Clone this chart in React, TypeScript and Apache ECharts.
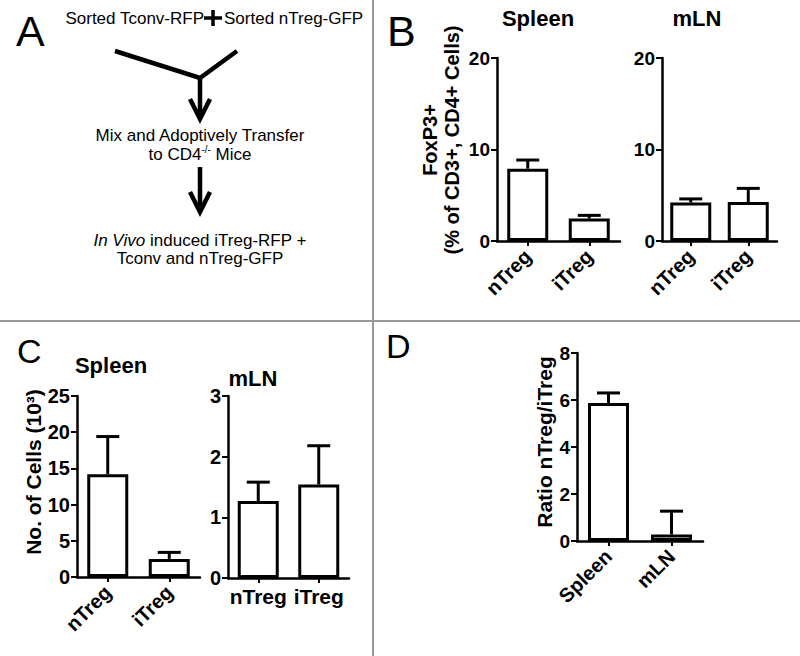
import React, { useEffect, useRef } from "react";
import * as echarts from "echarts";

// ---- data ----
const bSpleenCats = ["nTreg", "iTreg"];
const bSpleenMean = [7.9, 2.45];
const bSpleenErr = [0.95, 0.35];

const bMlnCats = ["nTreg", "iTreg"];
const bMlnMean = [4.2, 4.25];
const bMlnErr = [0.4, 1.5];

const cSpleenCats = ["nTreg", "iTreg"];
const cSpleenMean = [14.2, 2.5];
const cSpleenErr = [5.2, 0.9];

const cMlnCats = ["nTreg", "iTreg"];
const cMlnMean = [1.27, 1.54];
const cMlnErr = [0.31, 0.64];

const dCats = ["Spleen", "mLN"];
const dMean = [5.87, 0.28];
const dErr = [0.43, 0.99];

const FONT = 'Arial, "Liberation Sans", sans-serif';

export default function App() {
  const ref = useRef<HTMLDivElement>(null);
  useEffect(() => {
    document.body.style.margin = "0";
    const chart = echarts.init(ref.current!, null, { renderer: "svg" });

    const grids = [
      { left: 497, top: 58, width: 123, height: 183 },
      { left: 662, top: 58, width: 115, height: 183 },
      { left: 77, top: 396, width: 123, height: 181 },
      { left: 228, top: 396, width: 121, height: 182 },
      { left: 577, top: 353, width: 126, height: 188 },
    ];
    const cats = [bSpleenCats, bMlnCats, cSpleenCats, cMlnCats, dCats];
    const means = [bSpleenMean, bMlnMean, cSpleenMean, cMlnMean, dMean];
    const errs = [bSpleenErr, bMlnErr, cSpleenErr, cMlnErr, dErr];
    const yMax = [20, 20, 25, 3, 8];
    const yInt = [10, 10, 5, 1, 2];
    const tickFont = [19, 19, 20, 20, 19];
    const xRot = [45, 45, 45, 0, 45];
    const xFont = [20, 20, 20, 21, 20];

    const xAxis = grids.map((_, i) => ({
      type: "category",
      gridIndex: i,
      data: cats[i],
      axisLine: { lineStyle: { color: "#000", width: 2.5 } },
      axisTick: { show: true, alignWithLabel: true, length: 5, lineStyle: { color: "#000", width: 2 } },
      axisLabel: {
        rotate: xRot[i],
        color: "#000",
        fontWeight: "bold",
        fontSize: xFont[i],
        fontFamily: FONT,
        margin: xRot[i] ? 12 : 8,
        interval: 0,
      },
    }));
    const yAxis = grids.map((_, i) => ({
      type: "value",
      gridIndex: i,
      min: 0,
      max: yMax[i],
      interval: yInt[i],
      splitLine: { show: false },
      axisLine: { show: true, lineStyle: { color: "#000", width: 2.5 } },
      axisTick: { show: true, length: 6, lineStyle: { color: "#000", width: 2 } },
      axisLabel: { color: "#000", fontWeight: "bold", fontSize: tickFont[i], fontFamily: FONT, margin: 7 },
    }));

    const series: any[] = [];
    grids.forEach((_, i) => {
      series.push({
        type: "bar",
        xAxisIndex: i,
        yAxisIndex: i,
        data: means[i],
        barWidth: 41,
        itemStyle: { color: "#fff", borderColor: "#000", borderWidth: 3 },
      });
      series.push({
        type: "custom",
        xAxisIndex: i,
        yAxisIndex: i,
        data: means[i].map((m, k) => [k, m, m + errs[i][k]]),
        encode: { x: 0, y: [1, 2] },
        z: 5,
        renderItem: (params: any, api: any) => {
          const idx = api.value(0);
          const p0 = api.coord([idx, api.value(1)]);
          const p1 = api.coord([idx, api.value(2)]);
          return {
            type: "group",
            children: [
              { type: "line", shape: { x1: p0[0], y1: p0[1], x2: p1[0], y2: p1[1] }, style: { stroke: "#000", lineWidth: 3 } },
              { type: "line", shape: { x1: p1[0] - 11.5, y1: p1[1], x2: p1[0] + 11.5, y2: p1[1] }, style: { stroke: "#000", lineWidth: 3 } },
            ],
          };
        },
      });
    });

    const txt = (text: string, x: number, y: number, size: number, opts: any = {}) => ({
      type: "text",
      x,
      y,
      rotation: opts.rotation || 0,
      style: {
        text,
        fontSize: size,
        fontWeight: opts.bold ? "bold" : "normal",
        fontFamily: FONT,
        fill: "#000",
        align: opts.align || "center",
        verticalAlign: opts.va || "middle",
        rich: opts.rich,
      },
    });
    const ln = (x1: number, y1: number, x2: number, y2: number, w: number, color = "#000") => ({
      type: "line",
      shape: { x1, y1, x2, y2 },
      style: { stroke: color, lineWidth: w },
    });
    const pl = (points: number[][], w: number) => ({
      type: "polyline",
      shape: { points },
      style: { stroke: "#000", lineWidth: w, fill: null, lineJoin: "miter" },
    });

    const graphic: any[] = [
      // dividers
      ln(0, 321, 800, 321, 2, "#9a9a9a"),
      ln(373, 0, 373, 656, 2, "#9a9a9a"),
      // panel letters
      txt("A", 16, 31, 43, { align: "left" }),
      txt("B", 387, 31, 43, { align: "left" }),
      txt("C", 17, 351, 34, { align: "left" }),
      txt("D", 386, 346, 34, { align: "left" }),
      // panel A schematic
      txt("Sorted Tconv-RFP", 204, 18, 17, { align: "right" }),
      ln(204, 18, 222, 18, 3.5),
      ln(213, 10, 213, 26, 3.5),
      txt("Sorted nTreg-GFP", 224, 18, 17, { align: "left" }),
      pl([[115, 51], [200, 78], [237, 51]], 4.5),
      ln(200, 78, 200, 116, 4.5),
      pl([[190, 99], [200, 119], [210, 99]], 4.5),
      txt("Mix and Adoptively Transfer", 200, 135, 17),
      txt("{a|to CD4}{s|-/-}{a| Mice}", 200, 154, 17, {
        rich: {
          a: { fontSize: 17, fontFamily: FONT, fill: "#000", lineHeight: 19 },
          s: { fontSize: 10, fontFamily: FONT, fill: "#000", verticalAlign: "top", lineHeight: 19 },
        },
      }),
      ln(200, 167, 200, 210, 4.5),
      pl([[190, 192], [200, 212], [210, 192]], 4.5),
      txt("{i|In Vivo}{a| induced iTreg-RFP +}", 200, 240, 17, {
        rich: {
          i: { fontSize: 17, fontFamily: FONT, fontStyle: "italic", fill: "#000" },
          a: { fontSize: 17, fontFamily: FONT, fill: "#000" },
        },
      }),
      txt("Tconv and nTreg-GFP", 200, 258, 17),
      // chart titles
      txt("Spleen", 538, 18, 22, { bold: true }),
      txt("mLN", 697, 18, 22, { bold: true }),
      txt("Spleen", 111, 365, 22, { bold: true }),
      txt("mLN", 253, 378, 22, { bold: true }),
      // y axis names
      txt("FoxP3+", 430, 140, 20, { bold: true, rotation: Math.PI / 2 }),
      txt("(% of CD3+, CD4+ Cells)", 452, 140, 20, { bold: true, rotation: Math.PI / 2 }),
      txt("No. of Cells (10³)", 33, 472, 21, { bold: true, rotation: Math.PI / 2 }),
      txt("Ratio nTreg/iTreg", 544, 442, 21, { bold: true, rotation: Math.PI / 2 }),
    ];

    chart.setOption({
      animation: false,
      backgroundColor: "#fff",
      grid: grids,
      xAxis,
      yAxis,
      series,
      graphic,
    });
    return () => chart.dispose();
  }, []);
  return <div ref={ref} style={{ width: 800, height: 656 }} />;
}
